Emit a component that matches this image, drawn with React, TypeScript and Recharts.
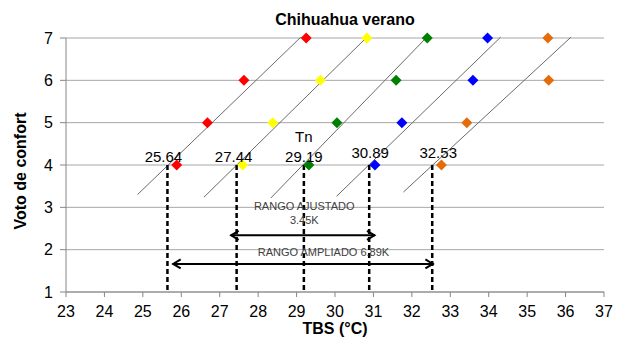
import {
  ComposedChart, Scatter, XAxis, YAxis, CartesianGrid, ReferenceLine,
} from 'recharts'

document.body.style.margin = '0'

// ── Data ─────────────────────────────────────────────────────────────────────
const X_TICKS = [23, 24, 25, 26, 27, 28, 29, 30, 31, 32, 33, 34, 35, 36, 37]
const Y_TICKS = [1, 2, 3, 4, 5, 6, 7]

// comfort votes, same order for every temperature array below
const VOTES = [7, 6, 5, 4]
const redTemps = [29.25, 27.63, 26.68, 25.88]
const yellowTemps = [30.83, 29.62, 28.38, 27.60]
const greenTemps = [32.40, 31.59, 30.05, 29.32]
const blueTemps = [33.97, 33.59, 31.74, 31.04]
const orangeTemps = [35.54, 35.56, 33.43, 32.77]

// fitted lines: [start, end] as [temp, vote]
const FIT_LINES = [
  [[24.86, 3.30], [29.11, 7.02]],
  [[26.59, 3.24], [30.83, 7.02]],
  [[28.33, 3.22], [32.39, 7.02]],
  [[30.04, 3.26], [34.31, 7.02]],
  [[31.78, 3.36], [36.14, 7.02]],
]

// neutral temperatures where each fit crosses vote 4
const TN = [25.64, 27.44, 29.19, 30.89, 32.53]

// range arrows: [from, to, vote level]
const AJUSTADO = [27.285, 31.04, 2.338]
const AMPLIADO = [25.776, 32.56, 1.662]

const NOTES = [
  { x: 29.2, y: 2.946, text: 'RANGO AJUSTADO' },
  { x: 29.2, y: 2.596, text: '3.45K' },
  { x: 29.7, y: 1.858, text: 'RANGO AMPLIADO  6.89K' },
]

const SERIES = [
  { name: 'rojo', color: '#FF0000', temps: redTemps },
  { name: 'amarillo', color: '#FFFF00', temps: yellowTemps },
  { name: 'verde', color: '#008000', temps: greenTemps },
  { name: 'azul', color: '#0000FF', temps: blueTemps },
  { name: 'naranja', color: '#E46C0A', temps: orangeTemps },
]

// pixel nudges for the Tn labels (layout only)
const LABEL_SHIFT = [[-4, -3.5], [-3, -3.5], [0, -3.5], [1, -7], [6, -7]]

const FONT = '"Liberation Sans", Arial, sans-serif'

// ── Shapes ───────────────────────────────────────────────────────────────────
const diamond = (color: string) => (p: any) => {
  const { cx, cy } = p
  const r = 5.5
  return <path d={`M${cx},${cy - r}L${cx + r},${cy}L${cx},${cy + r}L${cx - r},${cy}Z`} fill={color} />
}

const tnLabel = (p: any) => {
  const i = TN.indexOf(p.payload.x)
  const [dx, dy] = LABEL_SHIFT[i] || [0, -4]
  return (
    <g>
      <text x={p.cx + dx} y={p.cy + dy} textAnchor="middle" fontSize={15} fontFamily={FONT} fill="#000">
        {p.payload.x.toFixed(2)}
      </text>
      {p.payload.x === 29.19 && (
        <text x={p.cx} y={p.cy - 23} textAnchor="middle" fontSize={15} fontFamily={FONT} fill="#000">Tn</text>
      )}
    </g>
  )
}

const noteLabel = (p: any) => (
  <text x={p.cx} y={p.cy} textAnchor="middle" fontSize={11} fontFamily={FONT} fill="#404040">
    {p.payload.text}
  </text>
)

const DoubleArrow = (p: any) => {
  const { x1, y1, x2, y2 } = p
  const h = 8, w = 4.5
  return (
    <g stroke="#000" strokeWidth={2} fill="none">
      <line x1={x1} y1={y1} x2={x2} y2={y2} />
      <polyline points={`${x1 + h},${y1 - w} ${x1 + 0.5},${y1} ${x1 + h},${y1 + w}`} />
      <polyline points={`${x2 - h},${y2 - w} ${x2 - 0.5},${y2} ${x2 - h},${y2 + w}`} />
    </g>
  )
}

const YLabel = (p: any) => {
  const vb = p.viewBox
  const x = vb.x + 15.5
  const y = vb.y + vb.height / 2 + 6
  return (
    <text x={x} y={y} transform={`rotate(-90, ${x}, ${y})`} textAnchor="middle"
      fontSize={16} fontWeight="bold" fontFamily={FONT} fill="#000">
      Voto de confort
    </text>
  )
}

const XLabel = (p: any) => {
  const vb = p.viewBox
  return (
    <text x={vb.x + vb.width / 2} y={vb.y + 42} textAnchor="middle"
      fontSize={16} fontWeight="bold" fontFamily={FONT} fill="#000">
      TBS (°C)
    </text>
  )
}

// ── Chart ────────────────────────────────────────────────────────────────────
export default function App() {
  const tick = { fontSize: 16, fontFamily: FONT, fill: '#000' }
  const tnData = TN.map(t => ({ x: t, y: 4 }))

  return (
    <div style={{ width: 621, height: 337, background: '#fff' }}>
      <ComposedChart width={621} height={337} margin={{ top: 38, right: 17, bottom: 15, left: 10 }}>
        <CartesianGrid vertical={false} stroke="#a6a6a6" />
        <XAxis type="number" dataKey="x" domain={[23, 37]} ticks={X_TICKS} interval={0}
          tick={tick} tickSize={5} tickMargin={9} height={30}
          axisLine={{ stroke: '#868686' }} tickLine={{ stroke: '#868686' }}
          label={<XLabel />} />
        <YAxis type="number" dataKey="y" domain={[1, 7]} ticks={Y_TICKS} interval={0}
          tick={tick} tickSize={6} tickMargin={7} width={56}
          axisLine={{ stroke: '#868686' }} tickLine={{ stroke: '#868686' }}
          label={<YLabel />} />

        {FIT_LINES.map((seg, i) => (
          <ReferenceLine key={`fit-${i}`} ifOverflow="visible"
            segment={[{ x: seg[0][0], y: seg[0][1] }, { x: seg[1][0], y: seg[1][1] }]}
            stroke="#6b6b6b" strokeWidth={1} />
        ))}

        {TN.map(t => (
          <ReferenceLine key={`tn-${t}`} ifOverflow="visible"
            segment={[{ x: t, y: 4 }, { x: t, y: 1 }]}
            stroke="#000" strokeWidth={2.5} strokeDasharray="5 3" />
        ))}

        <ReferenceLine ifOverflow="visible"
          segment={[{ x: AJUSTADO[0], y: AJUSTADO[2] }, { x: AJUSTADO[1], y: AJUSTADO[2] }]}
          shape={DoubleArrow} />
        <ReferenceLine ifOverflow="visible"
          segment={[{ x: AMPLIADO[0], y: AMPLIADO[2] }, { x: AMPLIADO[1], y: AMPLIADO[2] }]}
          shape={DoubleArrow} />

        {SERIES.map(s => (
          <Scatter key={s.name} name={s.name} isAnimationActive={false}
            data={s.temps.map((t, i) => ({ x: t, y: VOTES[i] }))}
            shape={diamond(s.color)} />
        ))}

        <Scatter name="tn-labels" data={tnData} shape={tnLabel} isAnimationActive={false} />
        <Scatter name="notes" data={NOTES} shape={noteLabel} isAnimationActive={false} />

        <text x={345} y={25} textAnchor="middle" fontSize={16} fontWeight="bold" fontFamily={FONT} fill="#000">
          Chihuahua verano
        </text>
      </ComposedChart>
    </div>
  )
}
